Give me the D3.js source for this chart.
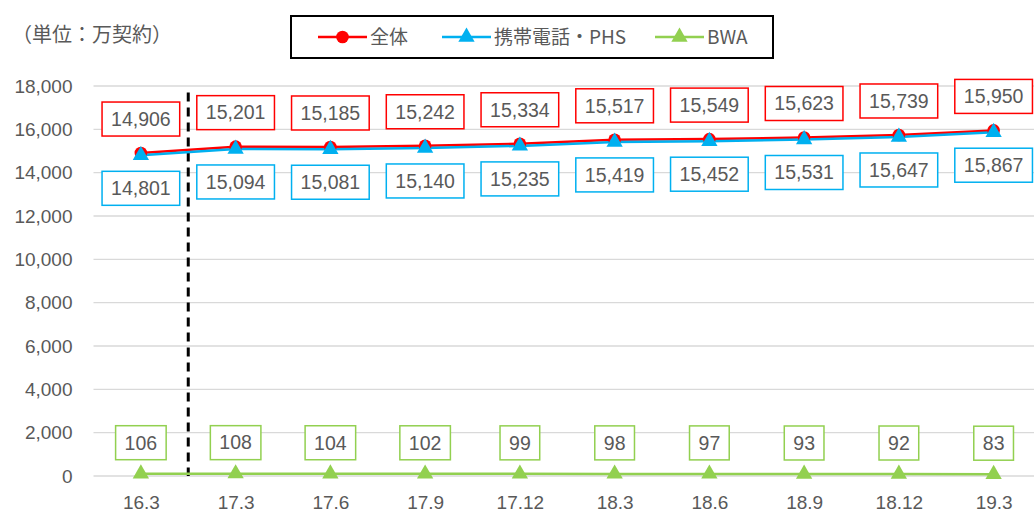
<!DOCTYPE html>
<html>
<head>
<meta charset="utf-8">
<script src="https://cdn.jsdelivr.net/npm/d3@7"></script>
<style>
  body { margin: 0; background: #fff; }
  text { font-family: "Liberation Sans", "Noto Sans CJK JP", sans-serif; fill: #595959; }
</style>
</head>
<body>
<div id="chart"></div>
<script>
// data
var categories = ["16.3", "17.3", "17.6", "17.9", "17.12", "18.3", "18.6", "18.9", "18.12", "19.3"];
var totalValues = [14906, 15201, 15185, 15242, 15334, 15517, 15549, 15623, 15739, 15950];
var mobileValues = [14801, 15094, 15081, 15140, 15235, 15419, 15452, 15531, 15647, 15867];
var bwaValues = [106, 108, 104, 102, 99, 98, 97, 93, 92, 83];
var yTicks = [0, 2000, 4000, 6000, 8000, 10000, 12000, 14000, 16000, 18000];
var seriesNames = ["全体", "携帯電話・PHS", "BWA"];

var width = 1034, height = 514;
var margin = {top: 86, right: -7, bottom: 38, left: 93.5};
var innerWidth = width - margin.left - margin.right,
    innerHeight = height - margin.top - margin.bottom;

var svg = d3.select("#chart").append("svg")
  .attr("width", width)
  .attr("height", height);

var g = svg.append("g")
  .attr("transform", "translate(" + margin.left + "," + margin.top + ")");

var xScale = d3.scalePoint()
  .domain(categories)
  .range([0, innerWidth])
  .padding(0.5);

var yScale = d3.scaleLinear()
  .domain([0, 18000])
  .range([innerHeight, 0]);

// gridlines
g.selectAll(".grid")
  .data(yTicks)
  .enter().append("line")
  .attr("x1", 0).attr("x2", innerWidth)
  .attr("y1", d => yScale(d)).attr("y2", d => yScale(d))
  .attr("stroke", "#d9d9d9")
  .attr("stroke-width", 1.3);

// y axis
var yAxis = g.append("g")
  .call(d3.axisLeft(yScale).tickValues(yTicks).tickFormat(d3.format(",")).tickSize(0).tickPadding(21));
yAxis.select(".domain").remove();
yAxis.selectAll("text").style("font-size", "19px").attr("fill", "#595959");

// x axis
var xAxis = g.append("g")
  .attr("transform", "translate(0," + innerHeight + ")")
  .call(d3.axisBottom(xScale).tickSize(0).tickPadding(0));
xAxis.select(".domain").remove();
xAxis.selectAll("text")
  .style("font-size", "19px")
  .attr("fill", "#595959")
  .attr("dy", null)
  .attr("y", 33);

// dashed separator between 16.3 and 17.3
var sepX = (xScale(categories[0]) + xScale(categories[1])) / 2;
g.append("line")
  .attr("x1", sepX).attr("x2", sepX)
  .attr("y1", yScale(17700)).attr("y2", innerHeight)
  .attr("stroke", "#000")
  .attr("stroke-width", 3)
  .attr("stroke-dasharray", "9,6");

var series = [
  {name: seriesNames[0], values: totalValues, color: "#ff0000", marker: "circle", labelDy: -34},
  {name: seriesNames[1], values: mobileValues, color: "#00b0f0", marker: "triangle", labelDy: 33},
  {name: seriesNames[2], values: bwaValues, color: "#92d050", marker: "triangle", labelDy: -31}
];

var line = d3.line()
  .x((d, i) => xScale(categories[i]))
  .y(d => yScale(d));

var triangle = d3.symbol().type(d3.symbolTriangle).size(115);
var circle = d3.symbol().type(d3.symbolCircle).size(125);

series.forEach(function(s) {
  g.append("path")
    .datum(s.values)
    .attr("fill", "none")
    .attr("stroke", s.color)
    .attr("stroke-width", 2.5)
    .attr("d", line);
});

series.forEach(function(s) {
  g.selectAll(null)
    .data(s.values)
    .enter().append("path")
    .attr("transform", (d, i) => "translate(" + xScale(categories[i]) + "," + yScale(d) + ")")
    .attr("d", s.marker == "circle" ? circle : triangle)
    .attr("fill", s.color);
});

// data labels in boxes
series.forEach(function(s) {
  var lab = g.selectAll(null)
    .data(s.values)
    .enter().append("g")
    .attr("transform", (d, i) => "translate(" + xScale(categories[i]) + "," + (yScale(d) + s.labelDy) + ")");
  lab.append("rect")
    .attr("fill", "#fff")
    .attr("stroke", s.color)
    .attr("stroke-width", 1.5);
  lab.append("text")
    .attr("text-anchor", "middle")
    .attr("dy", "0.35em")
    .style("font-size", "19.5px")
    .text(d => d3.format(",")(d));
  lab.each(function() {
    var t = d3.select(this).select("text").node().getComputedTextLength();
    d3.select(this).select("rect")
      .attr("x", -t / 2 - 9).attr("width", t + 18)
      .attr("y", -17).attr("height", 34);
  });
});

// unit title
svg.append("text")
  .attr("x", 12).attr("y", 42)
  .style("font-size", "20px")
  .style("font-family", "Noto Sans CJK JP")
  .attr("fill", "#404040")
  .text("（単位：万契約）");

// legend
var legend = svg.append("g");
legend.append("rect")
  .attr("x", 291).attr("y", 16)
  .attr("width", 482).attr("height", 42)
  .attr("fill", "#fff")
  .attr("stroke", "#000")
  .attr("stroke-width", 2);

var legendX = [318, 442, 655];
series.forEach(function(s, i) {
  var lg = legend.append("g").attr("transform", "translate(" + legendX[i] + ",37)");
  lg.append("line")
    .attr("x1", 0).attr("x2", 49)
    .attr("stroke", s.color).attr("stroke-width", 2.5);
  lg.append("path")
    .attr("transform", "translate(24.5,0)")
    .attr("d", s.marker == "circle" ? circle : triangle)
    .attr("fill", s.color);
  lg.append("text")
    .attr("x", 52).attr("dy", "0.35em")
    .style("font-size", "19px")
    .style("font-family", "Noto Sans CJK JP")
    .text(s.name);
});
</script>
</body>
</html>
